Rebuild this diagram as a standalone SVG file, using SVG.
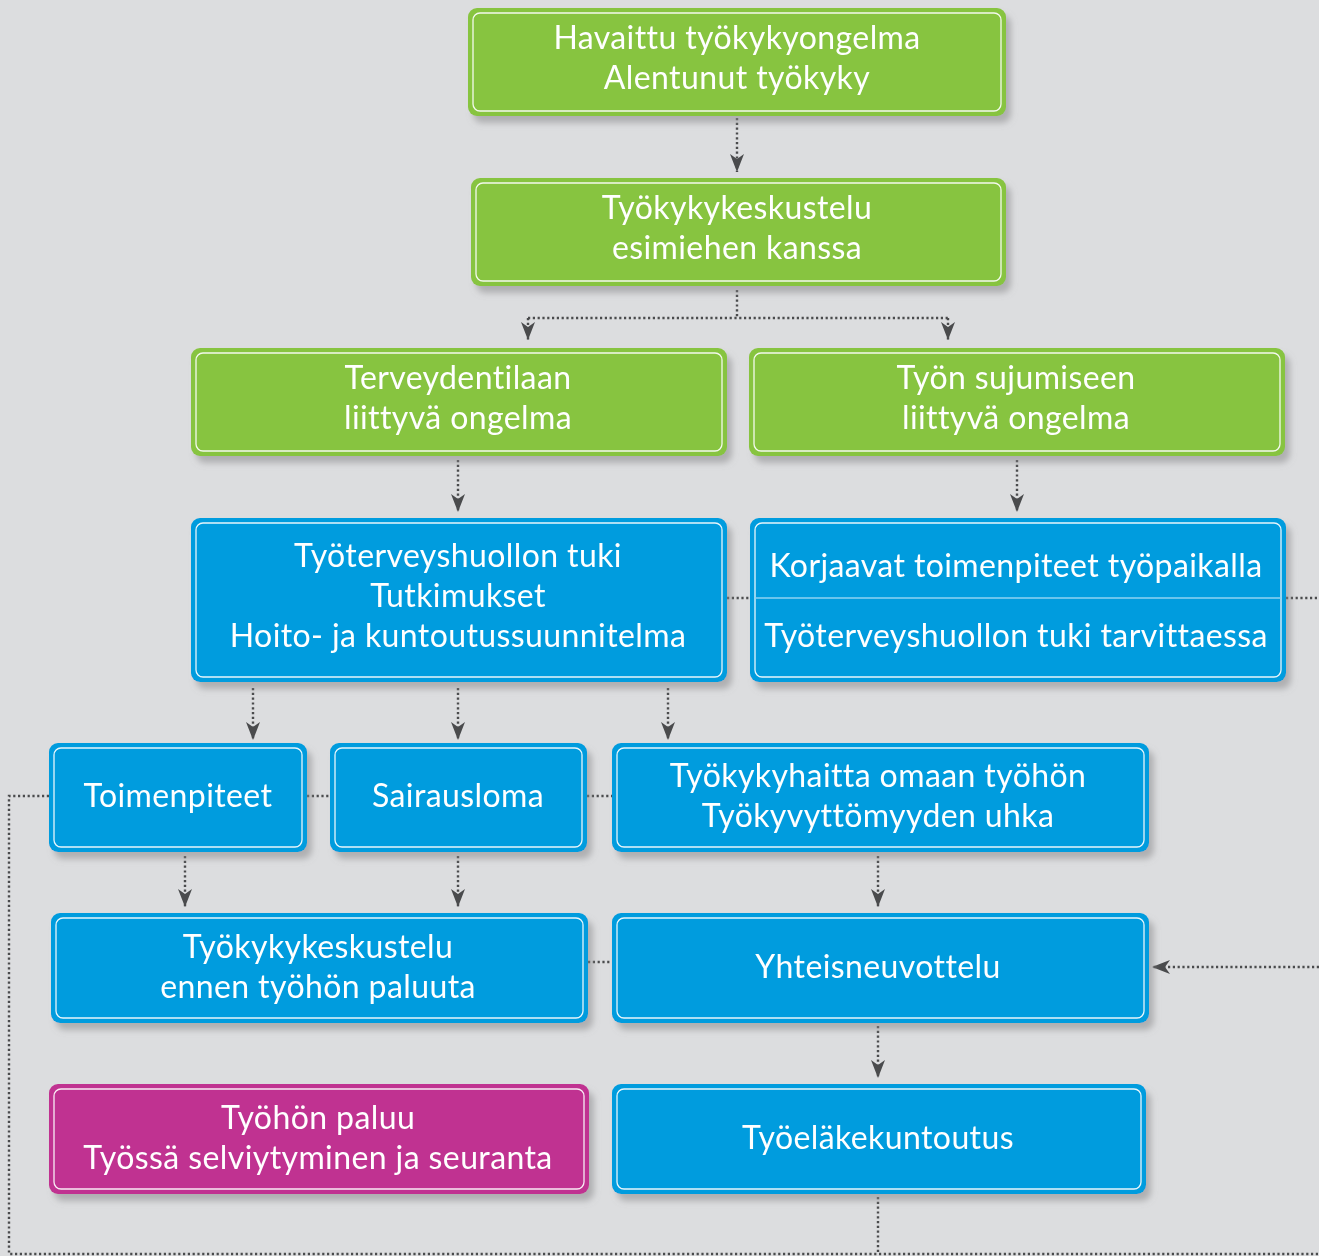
<svg xmlns="http://www.w3.org/2000/svg" width="1319" height="1256" viewBox="0 0 1319 1256">
<style>
.t{font-family:Lato,"Open Sans","Noto Sans",sans-serif;font-size:32px;letter-spacing:0.4px;fill:#fff;text-anchor:middle}
.g{fill:#87c441}
.b{fill:#009cde}
.m{fill:#c03391}
.in{fill:none;stroke:#fff;stroke-width:1.3;stroke-opacity:0.9}
.c{fill:none;stroke:#4a4b4d;stroke-width:2.4;stroke-dasharray:2.2 2.6}
</style>
<defs>
<filter id="sh" x="-10%" y="-20%" width="130%" height="150%">
<feDropShadow dx="5" dy="7" stdDeviation="3" flood-color="#8a8a8c" flood-opacity="0.55"/>
</filter>
<marker id="ar" viewBox="0 0 18 14" markerWidth="18" markerHeight="14" refX="18" refY="7" orient="auto" markerUnits="userSpaceOnUse">
<path d="M0,0 L18,7 L0,14 L5,7 z" fill="#4a4b4d"/>
</marker>
</defs>
<rect width="1319" height="1256" fill="#dcdddf"/>
<g id="connectors">
<path class="c" d="M737,118 V172" marker-end="url(#ar)"/>
<path class="c" d="M737,290 V318 M528,318 H948"/>
<path class="c" d="M528,318 V340" marker-end="url(#ar)"/>
<path class="c" d="M948,318 V340" marker-end="url(#ar)"/>
<path class="c" d="M458,460 V512" marker-end="url(#ar)"/>
<path class="c" d="M1017,460 V512" marker-end="url(#ar)"/>
<path class="c" d="M727,598 H750 M1286,598 H1319"/>
<path class="c" d="M253,688 V740" marker-end="url(#ar)"/>
<path class="c" d="M458,688 V740" marker-end="url(#ar)"/>
<path class="c" d="M668,688 V740" marker-end="url(#ar)"/>
<path class="c" d="M49,796 H9 V1254 H1319 M307,796 H330 M587,796 H612"/>
<path class="c" d="M185,856 V907" marker-end="url(#ar)"/>
<path class="c" d="M458,856 V907" marker-end="url(#ar)"/>
<path class="c" d="M878,856 V907" marker-end="url(#ar)"/>
<path class="c" d="M588,962 H612"/>
<path class="c" d="M1319,967 H1152" marker-end="url(#ar)"/>
<path class="c" d="M878,1026 V1078" marker-end="url(#ar)"/>
<path class="c" d="M878,1197 V1254"/>
</g>
<g id="n1" filter="url(#sh)">
<rect class="g" x="468" y="8" width="538" height="108" rx="9"/>
<rect class="in" x="473" y="13" width="528" height="98" rx="7"/>
<text class="t" x="737" y="49">Havaittu työkykyongelma</text>
<text class="t" x="737" y="89">Alentunut työkyky</text>
</g>
<g id="n2" filter="url(#sh)">
<rect class="g" x="471" y="178" width="535" height="108" rx="9"/>
<rect class="in" x="476" y="183" width="525" height="98" rx="7"/>
<text class="t" x="737" y="219">Työkykykeskustelu</text>
<text class="t" x="737" y="259">esimiehen kanssa</text>
</g>
<g id="n3" filter="url(#sh)">
<rect class="g" x="191" y="348" width="536" height="108" rx="9"/>
<rect class="in" x="196" y="353" width="526" height="98" rx="7"/>
<text class="t" x="458" y="389">Terveydentilaan</text>
<text class="t" x="458" y="429">liittyvä ongelma</text>
</g>
<g id="n4" filter="url(#sh)">
<rect class="g" x="749" y="348" width="536" height="108" rx="9"/>
<rect class="in" x="754" y="353" width="526" height="98" rx="7"/>
<text class="t" x="1016" y="389">Työn sujumiseen</text>
<text class="t" x="1016" y="429">liittyvä ongelma</text>
</g>
<g id="n5" filter="url(#sh)">
<rect class="b" x="191" y="518" width="536" height="164" rx="9"/>
<rect class="in" x="196" y="523" width="526" height="154" rx="7"/>
<text class="t" x="458" y="567">Työterveyshuollon tuki</text>
<text class="t" x="458" y="607">Tutkimukset</text>
<text class="t" x="458" y="647">Hoito- ja kuntoutussuunnitelma</text>
</g>
<g id="n6" filter="url(#sh)">
<rect class="b" x="750" y="518" width="536" height="164" rx="9"/>
<rect class="in" x="755" y="523" width="526" height="154" rx="7"/>
<line x1="755" y1="598" x2="1281" y2="598" stroke="#8fd3f2" stroke-width="1.5"/>
<text class="t" x="1016" y="577">Korjaavat toimenpiteet työpaikalla</text>
<text class="t" x="1016" y="647">Työterveyshuollon tuki tarvittaessa</text>
</g>
<g id="n7" filter="url(#sh)">
<rect class="b" x="49" y="743" width="258" height="109" rx="9"/>
<rect class="in" x="54" y="748" width="248" height="99" rx="7"/>
<text class="t" x="178" y="807">Toimenpiteet</text>
</g>
<g id="n8" filter="url(#sh)">
<rect class="b" x="330" y="743" width="257" height="109" rx="9"/>
<rect class="in" x="335" y="748" width="247" height="99" rx="7"/>
<text class="t" x="458" y="807">Sairausloma</text>
</g>
<g id="n9" filter="url(#sh)">
<rect class="b" x="612" y="743" width="537" height="109" rx="9"/>
<rect class="in" x="617" y="748" width="527" height="99" rx="7"/>
<text class="t" x="878" y="787">Työkykyhaitta omaan työhön</text>
<text class="t" x="878" y="827">Työkyvyttömyyden uhka</text>
</g>
<g id="n10" filter="url(#sh)">
<rect class="b" x="51" y="913" width="537" height="110" rx="9"/>
<rect class="in" x="56" y="918" width="527" height="100" rx="7"/>
<text class="t" x="318" y="958">Työkykykeskustelu</text>
<text class="t" x="318" y="998">ennen työhön paluuta</text>
</g>
<g id="n11" filter="url(#sh)">
<rect class="b" x="612" y="913" width="537" height="110" rx="9"/>
<rect class="in" x="617" y="918" width="527" height="100" rx="7"/>
<text class="t" x="878" y="978">Yhteisneuvottelu</text>
</g>
<g id="n12" filter="url(#sh)">
<rect class="m" x="49" y="1084" width="540" height="110" rx="9"/>
<rect class="in" x="54" y="1089" width="530" height="100" rx="7"/>
<text class="t" x="318" y="1129">Työhön paluu</text>
<text class="t" x="318" y="1169">Työssä selviytyminen ja seuranta</text>
</g>
<g id="n13" filter="url(#sh)">
<rect class="b" x="612" y="1084" width="534" height="110" rx="9"/>
<rect class="in" x="617" y="1089" width="524" height="100" rx="7"/>
<text class="t" x="878" y="1149">Työeläkekuntoutus</text>
</g>
</svg>
